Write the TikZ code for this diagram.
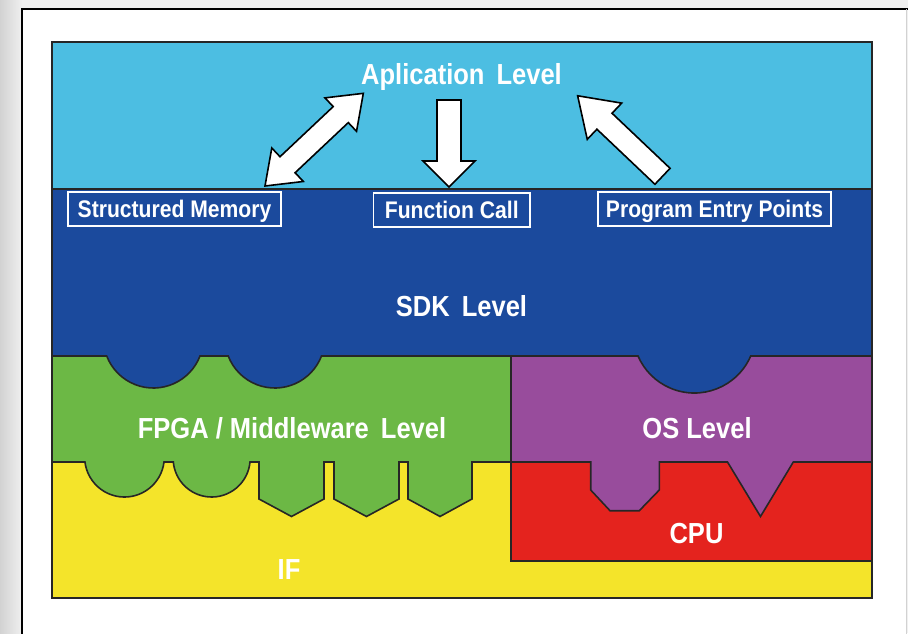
\documentclass[tikz,border=0pt]{standalone}
\usepackage{fontspec}
\newfontfamily\diagfont[FakeStretch=0.88]{Liberation Sans}
\definecolor{appblue}{RGB}{76,190,226}
\definecolor{sdkblue}{RGB}{27,74,157}
\definecolor{fpgagreen}{RGB}{108,184,69}
\definecolor{ospurple}{RGB}{152,76,156}
\definecolor{cpured}{RGB}{228,35,30}
\definecolor{ifyellow}{RGB}{244,228,42}
\newcommand\widegap{\hspace{12pt}}
\begin{document}
\begin{tikzpicture}[x=1pt,y=1pt,
  region/.style={draw=black!85, line width=1.6pt, line join=miter},
  leveltitle/.style={text=white, inner sep=0pt, text height=20.8pt, text depth=0pt,
    font=\diagfont\bfseries\fontsize{29}{29}\selectfont},
  labelbox/.style={draw=white, line width=1.8pt, text=white, inner sep=0pt,
    minimum height=34pt, text height=17.2pt, text depth=0pt,
    font=\diagfont\bfseries\fontsize{24}{24}\selectfont},
  blockarrow/.style={fill=white, draw=black, line width=1.6pt, line join=miter}]
\useasboundingbox (0,0) rectangle (908,633);
\clip (0,0) rectangle (908,633);

% backdrop and white panel
\fill[gray!12] (0,0) rectangle (908,633);
\shade[left color=gray!35, right color=gray!12] (0,0) rectangle (22,633);
\fill[white] (22,-5) rectangle (906,624);
\draw[black, line width=2pt] (22,-5) -- (22,624) -- (908,624);
\draw[gray!35, line width=0.8pt] (906.5,624) -- (906.5,-5);

% IF and CPU bases
\path[region, fill=ifyellow] (52,35) rectangle (872,591);
\path[region, fill=cpured] (511,72) rectangle (872,171);

% FPGA / middleware layer with its teeth into IF
\path[region, fill=fpgagreen]
  (52,277) -- (511,277) -- (511,171) -- (472,171) -- (472,134) -- (440,116.5)
  -- (408,134) -- (408,171) -- (399,171) -- (399,134) -- (366.5,116.5)
  -- (334,134) -- (334,171) -- (324,171) -- (324,134) -- (291.5,116.5)
  -- (259,134) -- (259,171) -- (250,171)
  arc[start angle=-5.2, end angle=-174.8, radius=38.5] -- (164,171)
  arc[start angle=-6.9, end angle=-173.1, radius=39.8] -- (52,171) -- cycle;

% OS layer with its teeth into CPU
\path[region, fill=ospurple]
  (511,277) -- (872,277) -- (872,171) -- (793.3,171) -- (760.5,116.5)
  -- (727.5,171) -- (659.3,171) -- (659.3,143) -- (639.3,122.3)
  -- (610,122.3) -- (590.7,143) -- (590.7,171) -- (511,171) -- cycle;

% SDK layer with round plugs
\path[region, fill=sdkblue]
  (52,444) -- (872,444) -- (872,277) -- (750.7,277)
  arc[start angle=-23.4, end angle=-156.6, radius=61.4] -- (321.5,277)
  arc[start angle=-21.1, end angle=-158.9, radius=50] -- (200,277)
  arc[start angle=-21.1, end angle=-158.9, radius=50] -- (52,277) -- cycle;

% application layer
\path[region, fill=appblue] (52,444) rectangle (872,591);
\draw[black!85, line width=1.6pt] (52,35) rectangle (872,591);

% level titles
\node[leveltitle] (app) at (461.5,558.7) {Aplication\widegap Level};
\node[leveltitle] (sdk) at (461.5,327) {SDK\widegap Level};
\node[leveltitle] (fpga) at (292,205) {FPGA / Middleware\widegap Level};
\node[leveltitle] (os) at (697,205) {OS Level};
\node[leveltitle] (cpu) at (696.5,100) {CPU};
\node[leveltitle] (if) at (289,64) {IF};

% interface labels
\node[labelbox, minimum width=213pt] (mem) at (174.5,424) {Structured Memory};
\node[labelbox, minimum width=156.5pt] (call) at (451.75,423) {Function Call};
\node[labelbox, minimum width=233pt] (entry) at (714.5,424) {Program Entry Points};

% block arrows
\coordinate (memtip) at (265,447);
\coordinate (calltail) at (449,533);
\coordinate (entrytail) at (662.5,456.7);

\begin{scope}[shift={(memtip)}, rotate=43.3]
  \path[blockarrow] (0,0) -- (31,23) -- (31,11) -- (104.1,11) -- (104.1,23)
    -- (135.1,0) -- (104.1,-23) -- (104.1,-11) -- (31,-11) -- (31,-23) -- cycle;
\end{scope}

\begin{scope}[shift={(calltail)}]
  \path[blockarrow] (-12,0) -- (12,0) -- (12,-61) -- (26,-61) -- (0,-87)
    -- (-26,-61) -- (-12,-61) -- cycle;
\end{scope}

\begin{scope}[shift={(entrytail)}, rotate=136.5]
  \path[blockarrow] (0,-11) -- (80,-11) -- (80,-25) -- (117,0) -- (80,25)
    -- (80,11) -- (0,11) -- cycle;
\end{scope}
\end{tikzpicture}
\end{document}
